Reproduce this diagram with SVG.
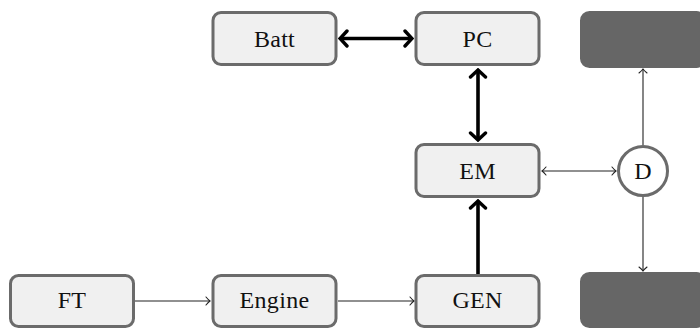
<svg xmlns="http://www.w3.org/2000/svg" width="700" height="328" viewBox="0 0 700 328">
<defs>
<style>
.box{fill:#f0f0f0;stroke:#6b6b6b;stroke-width:3}
.dark{fill:#666666;stroke:#666666;stroke-width:3}
.lbl{font-family:"Liberation Serif","DejaVu Serif",serif;font-size:24px;fill:#111;text-anchor:middle;letter-spacing:0.3px}
.thick{stroke:#000;stroke-width:3.6;fill:none}
.thin{stroke:#222;stroke-width:1.1;fill:none}
</style>
<marker id="ah" viewBox="-12 -10 14 20" refX="0" refY="0" markerWidth="14" markerHeight="20" markerUnits="userSpaceOnUse" orient="auto-start-reverse">
<path d="M-7,-7.5 L0,0 L-7,7.5" fill="none" stroke="#000" stroke-width="3.4" stroke-linecap="round" stroke-linejoin="miter"/>
</marker>
<marker id="at" viewBox="-8 -6 10 12" refX="0" refY="0" markerWidth="10" markerHeight="12" markerUnits="userSpaceOnUse" orient="auto-start-reverse">
<path d="M-4,-4 Q-1.5,-1 0,0 Q-1.5,1 -4,4" fill="none" stroke="#222" stroke-width="1.1" stroke-linecap="round"/>
</marker>
</defs>
<g id="connectors">
<line class="thick" x1="340" y1="38.5" x2="412" y2="38.5" marker-start="url(#ah)" marker-end="url(#ah)"/>
<line class="thick" x1="478" y1="70" x2="478" y2="140" marker-start="url(#ah)" marker-end="url(#ah)"/>
<line class="thick" x1="478" y1="274" x2="478" y2="201" marker-end="url(#ah)"/>
<line class="thin" x1="135" y1="301" x2="210" y2="301" marker-end="url(#at)"/>
<line class="thin" x1="338" y1="301" x2="414" y2="301" marker-end="url(#at)"/>
<line class="thin" x1="542" y1="171" x2="616" y2="171" marker-start="url(#at)" marker-end="url(#at)"/>
<line class="thin" x1="643" y1="145" x2="643" y2="69" marker-end="url(#at)"/>
<line class="thin" x1="643" y1="197" x2="643" y2="271" marker-end="url(#at)"/>
</g>
<g id="Batt"><rect class="box" x="213" y="12.5" width="123" height="52" rx="8"/><text class="lbl" x="274.5" y="46.5">Batt</text></g>
<g id="PC"><rect class="box" x="416" y="12.5" width="123" height="52" rx="8"/><text class="lbl" x="477.5" y="46.5">PC</text></g>
<g id="EM"><rect class="box" x="416" y="144.5" width="123" height="52" rx="8"/><text class="lbl" x="477.5" y="178.5">EM</text></g>
<g id="D"><circle cx="643" cy="171" r="24.5" fill="#fff" stroke="#6b6b6b" stroke-width="3"/><text class="lbl" x="643" y="179">D</text></g>
<g id="FT"><rect class="box" x="10.5" y="275.5" width="123" height="51" rx="8"/><text class="lbl" x="72" y="308">FT</text></g>
<g id="Engine"><rect class="box" x="213" y="275.5" width="123" height="51" rx="8"/><text class="lbl" x="274.5" y="308">Engine</text></g>
<g id="GEN"><rect class="box" x="416" y="275.5" width="123" height="51" rx="8"/><text class="lbl" x="477.5" y="308">GEN</text></g>
<g id="Top"><rect class="dark" x="581.5" y="12.5" width="123" height="54" rx="8"/></g>
<g id="Bottom"><rect class="dark" x="581.5" y="273.5" width="123" height="53" rx="8"/></g>
</svg>
